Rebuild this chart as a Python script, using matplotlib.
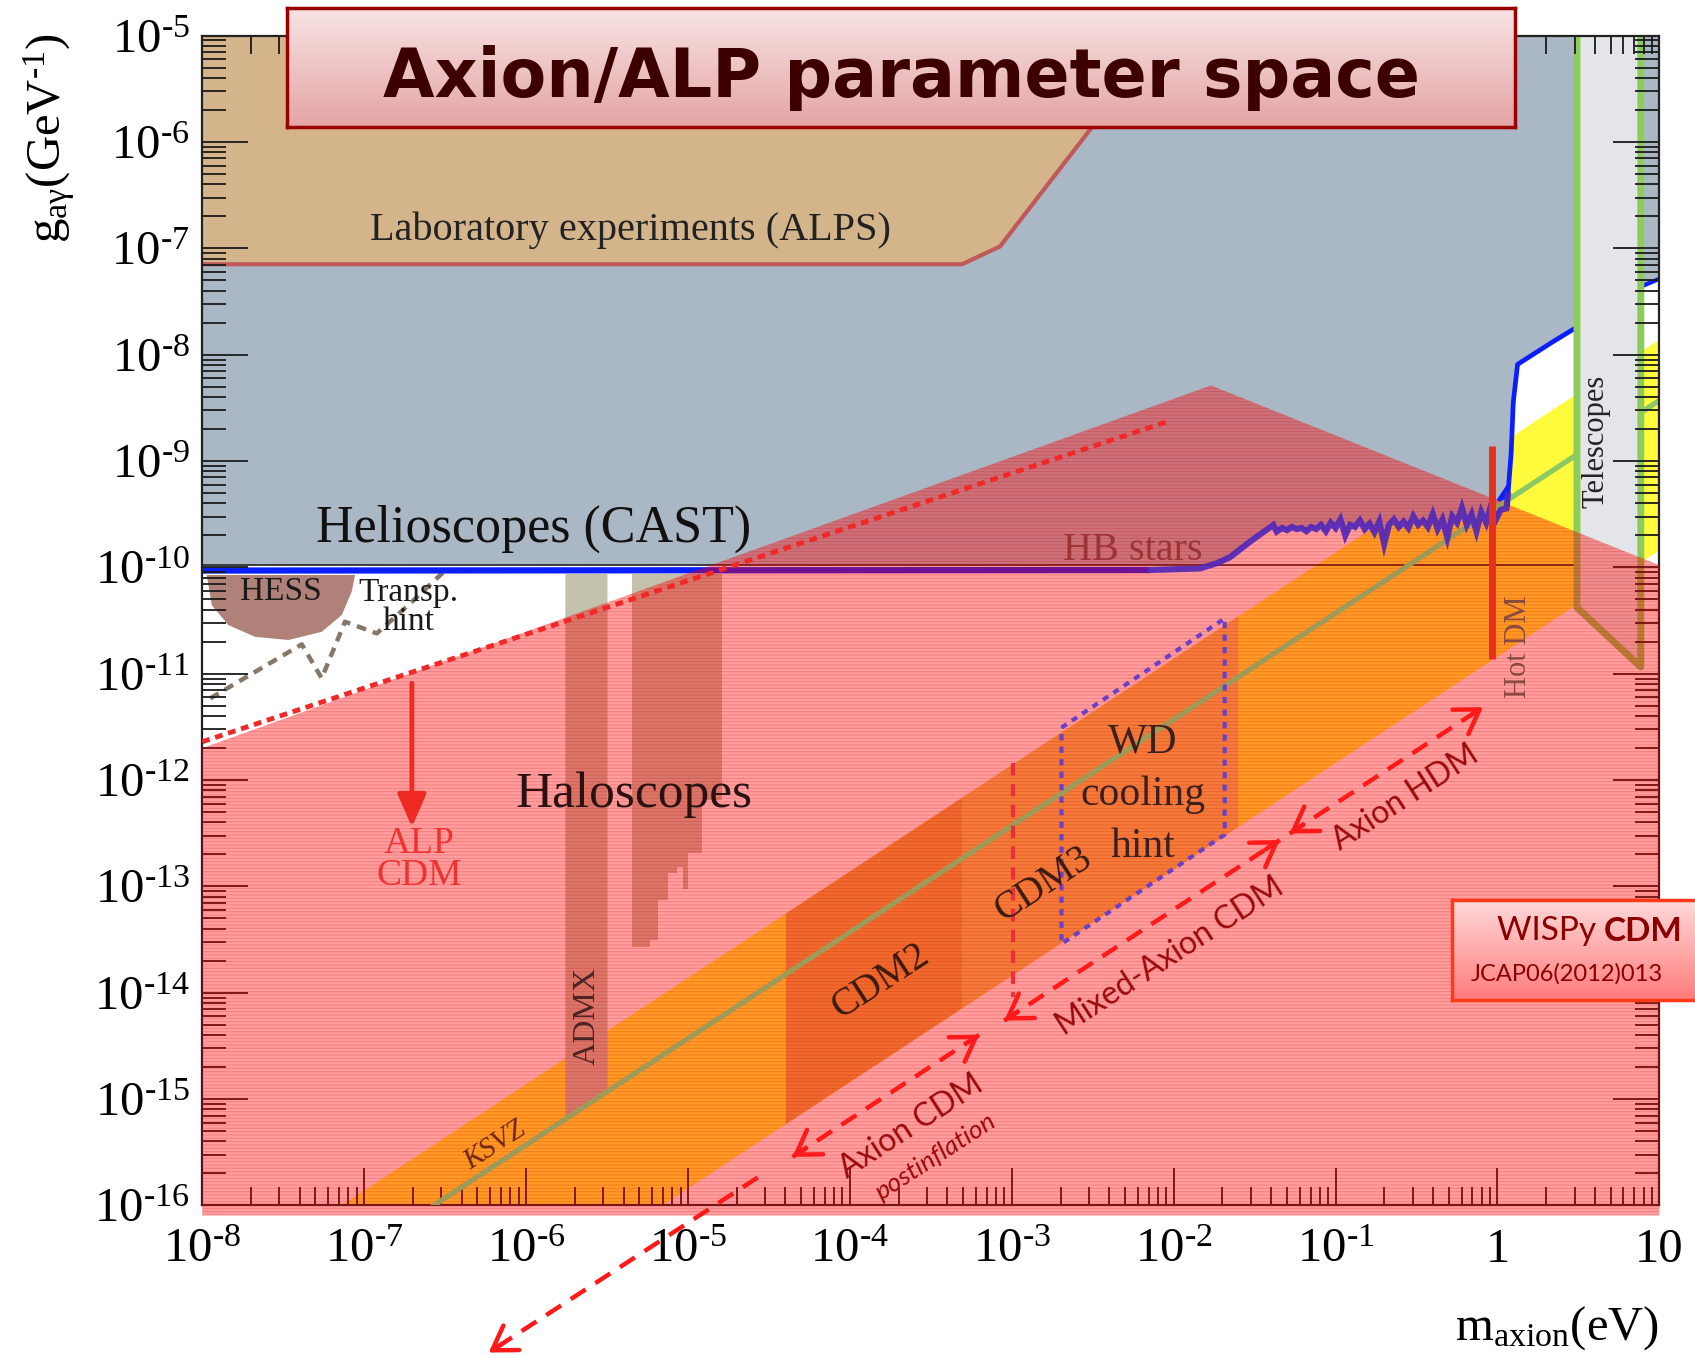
import numpy as np
import matplotlib
matplotlib.use("Agg")
import matplotlib.pyplot as plt
from matplotlib.patches import Polygon
from matplotlib.ticker import LogLocator, NullFormatter
from matplotlib.colors import LinearSegmentedColormap

plt.rcParams['font.family'] = ['Liberation Serif', 'DejaVu Serif']
plt.rcParams['mathtext.fontset'] = 'custom'
plt.rcParams['mathtext.rm'] = 'Liberation Serif'
plt.rcParams['mathtext.it'] = 'Liberation Serif:italic'
plt.rcParams['mathtext.bf'] = 'Liberation Serif:bold'
plt.rcParams['hatch.linewidth'] = 0.7

# ---------------------------------------------------------------
# Data: log10(m_axion / eV) and log10(g_agamma / GeV^-1)
# ---------------------------------------------------------------
x_decades = [-8, -7, -6, -5, -4, -3, -2, -1, 0, 1]
x_labels = [r'$\mathregular{10^{\text{-}8}}$', r'$\mathregular{10^{\text{-}7}}$',
            r'$\mathregular{10^{\text{-}6}}$', r'$\mathregular{10^{\text{-}5}}$',
            r'$\mathregular{10^{\text{-}4}}$', r'$\mathregular{10^{\text{-}3}}$',
            r'$\mathregular{10^{\text{-}2}}$', r'$\mathregular{10^{\text{-}1}}$',
            '1', '10']
y_decades = [-16, -15, -14, -13, -12, -11, -10, -9, -8, -7, -6, -5]
y_labels = [r'$\mathregular{10^{\text{-}%d}}$' % (-d) for d in y_decades]

# Laboratory experiments (ALPS) exclusion
alps_logm = [-8.0, -8.0, -3.307, -3.073, -2.506, -2.07]
alps_logg = [-5.0, -7.15, -7.15, -6.983, -5.864, -5.0]

# CAST helioscope limit (flat part, rise, noisy resonance scan, high-mass rise)
cast_flat_logm = [-8.0, -2.147, -1.838, -1.735, -1.653, -1.529, -1.385]
cast_flat_logg = [-10.03, -10.025, -10.01, -9.962, -9.906, -9.759, -9.602]
cast_scan_logm = [-1.364, -1.33, -1.30, -1.27, -1.24, -1.21, -1.18, -1.15, -1.12,
                  -1.09, -1.06, -1.03, -1.00, -0.97, -0.94, -0.91, -0.88, -0.85,
                  -0.82, -0.79, -0.76, -0.73, -0.70, -0.67, -0.64, -0.61, -0.58,
                  -0.55, -0.52, -0.49, -0.46, -0.43, -0.40, -0.37, -0.34, -0.31,
                  -0.28, -0.25, -0.22, -0.19, -0.16, -0.13, -0.10, -0.07, -0.04,
                  -0.01, 0.02, 0.056]
cast_scan_logg = [-9.664, -9.63, -9.65, -9.62, -9.64, -9.63, -9.66, -9.62, -9.64,
                  -9.60, -9.66, -9.58, -9.63, -9.55, -9.70, -9.60, -9.62, -9.56,
                  -9.64, -9.59, -9.67, -9.57, -9.78, -9.60, -9.55, -9.62, -9.57,
                  -9.63, -9.52, -9.60, -9.56, -9.62, -9.50, -9.64, -9.55, -9.72,
                  -9.52, -9.58, -9.44, -9.60, -9.50, -9.66, -9.48, -9.58, -9.42,
                  -9.55, -9.46, -9.445]
cast_high_logm = [0.064, 0.084, 0.0975, 0.124, 0.344, 0.4646]
cast_high_logg = [-9.321, -8.935, -8.447, -8.091, -7.877, -7.765]
cast_tri_logm = [-0.006, 0.077, 0.077]
cast_tri_logg = [-9.367, -9.179, -9.43]
cast_right_logm = [0.885, 0.898, 1.0]
cast_right_logg = [-7.36, -7.353, -7.287]

# Horizontal-branch stars bound
hb_logg = -9.977
hb_logm = [-8.0, 0.491]

# Telescopes band
tel_logm = [0.491, 0.491, 0.885, 0.885]
tel_logg = [-5.0, -10.378, -10.937, -5.0]

# QCD axion band offsets (log g = log m + offset) and KSVZ model line
band_hi = -8.86
band_lo = -10.84
ksvz_off = -9.43
cdm2_logm = [-4.395, -3.307]
cdm3_logm = [-3.307, -1.60]

# ALP cold dark matter triangle
pink_logm = [-8.0, -1.77, 1.0, 1.0, -8.0]
pink_logg = [-11.70, -8.29, -9.98, -16.094, -16.094]
alp_line_logm = [-8.0, -2.04]
alp_line_logg = [-11.64, -8.63]

# Haloscopes: ADMX and other cavity searches
admx_logm = [-5.757, -5.497, -5.497, -5.757]
admx_logg = [-10.063, -10.063, -14.95, -15.2]
halo_logm = [-5.348, -4.792, -4.792, -4.915, -4.915, -4.997, -4.997, -5.029,
             -5.029, -5.069, -5.069, -5.121, -5.121, -5.183, -5.183, -5.234,
             -5.234, -5.348]
halo_logg = [-10.063, -10.063, -12.19, -12.19, -12.69, -12.69, -13.02, -13.02,
             -12.815, -12.815, -12.878, -12.878, -13.13, -13.13, -13.505,
             -13.505, -13.567, -13.567]

# HESS exclusion and transparency hint
hess_logm = [-7.972, -7.056, -7.077, -7.138, -7.262, -7.468, -7.674, -7.838, -7.941]
hess_logg = [-10.072, -10.072, -10.23, -10.448, -10.606, -10.683, -10.653, -10.543, -10.355]
transp_logm = [-7.951, -7.385, -7.262, -7.118, -6.922, -6.727, -6.49]
transp_logg = [-11.232, -10.724, -11.043, -10.511, -10.621, -10.355, -10.016]

# White-dwarf cooling hint
wd_logm = [-2.693, -1.685, -1.685, -2.693, -2.693]
wd_logg = [-11.507, -10.48, -12.513, -13.54, -11.507]

# Hot dark matter bound, m = 1e-3 eV marker
hot_logm = -0.036
hot_logg = [-8.863, -10.866]
mixed_logm = -2.993
mixed_logg = [-11.84, -14.04]

# Dark matter production ranges (arrow ends)
arrow_post = [(-4.569, -15.736), (-6.231, -17.383)]
arrow_cdm = [(-4.355, -15.543), (-3.2, -14.394)]
arrow_mixed = [(-3.047, -14.262), (-1.344, -12.564)]
arrow_hdm = [(-1.284, -12.503), (-0.089, -11.314)]
alp_arrow = [(-6.705, -11.09), (-6.705, -12.442)]


def pts(lm, lg):
    return np.column_stack([np.power(10.0, lm), np.power(10.0, lg)])


def L(v):
    return np.power(10.0, v)


# ---------------------------------------------------------------
fig = plt.figure(figsize=(16.95, 13.58), dpi=100)
ax = fig.add_axes([0.1193, 0.1123, 0.8597, 0.8615])
ax.set_xscale('log')
ax.set_yscale('log')
ax.set_xlim(1e-8, 10)
ax.set_ylim(1e-16, 1e-5)
ax.set_axisbelow(True)

RED = '#ff1a1a'
SCAN = '#5228b8'

# axion model band (yellow, turns orange under the pink overlay)
bx = np.array([-8.5, 1.5])
band = pts([bx[0], bx[1], bx[1], bx[0]],
           [bx[0] + band_lo, bx[1] + band_lo, bx[1] + band_hi, bx[0] + band_hi])
ax.add_patch(Polygon(band, closed=True, fc='#fffb3c', ec='none', zorder=0.05))
for rng, col in ((cdm2_logm, '#e6ad4a'), (cdm3_logm, '#eec95e')):
    a, b = rng
    ax.add_patch(Polygon(pts([a, b, b, a], [a + band_lo, b + band_lo, b + band_hi, a + band_hi]),
                         closed=True, fc=col, ec='none', zorder=0.06))

# KSVZ line (green part outside the ALP triangle)
kx = np.array([0.05, 1.0])
ax.plot(L(kx), L(kx + ksvz_off), color='#8cc864', lw=3.8, zorder=0.08, solid_capstyle='butt')

# helioscope exclusion (grey-blue)
cast_all_m = cast_flat_logm + cast_scan_logm + cast_high_logm
cast_all_g = cast_flat_logg + cast_scan_logg + cast_high_logg
gm = [-8.0, -8.0, -1.72]
gg = [-5.0, hb_logg, hb_logg]
for m, g in zip(cast_all_m, cast_all_g):
    if m > -1.72:
        gm.append(m)
        gg.append(g)
gm += [0.5, 0.5]
gg += [-7.76, -5.0]
ax.add_patch(Polygon(pts(gm, gg), closed=True, fc='#aab7c4', ec='none', zorder=0.1))
ax.add_patch(Polygon(pts([0.885] + cast_right_logm + [1.0],
                         [-5.0] + cast_right_logg + [-5.0]),
                     closed=True, fc='#aab7c4', ec='none', zorder=0.1))

# laboratory exclusion
ax.add_patch(Polygon(pts(alps_logm, alps_logg), closed=True, fc='#d4b48a', ec='none', zorder=0.15))
ax.plot(L(np.array(alps_logm[1:])), L(np.array(alps_logg[1:])), color='#c05a5a', lw=3, zorder=0.16)

# telescopes
ax.add_patch(Polygon(pts(tel_logm, tel_logg), closed=True, fc='#e3e5e8', ec='none', zorder=0.2))
ax.plot(L(np.array(tel_logm)), L(np.array(tel_logg)), color='#8ccc5a', lw=5, zorder=0.42)

# haloscopes, HESS
ax.add_patch(Polygon(pts(admx_logm, admx_logg), closed=True, fc='#c3c0ab', ec='none', zorder=0.2))
ax.add_patch(Polygon(pts(halo_logm, halo_logg), closed=True, fc='#c3c0ab', ec='none', zorder=0.2))
ax.add_patch(Polygon(pts(hess_logm, hess_logg), closed=True, fc='#af8178', ec='none', zorder=0.2))
ax.plot(L(np.array(transp_logm)), L(np.array(transp_logg)), color='#85786a', lw=3.2,
        ls=(0, (2.2, 1.6)), zorder=0.4)

# CAST limit line and HB line
ax.plot(L(np.array(hb_logm)), [L(hb_logg)] * 2, color='#222222', lw=1.2, zorder=0.4)
ax.plot(L(np.array(cast_flat_logm[:2])), L(np.array(cast_flat_logg[:2])),
        color='#0a1eff', lw=4.5, zorder=0.41, solid_capstyle='butt')
ax.plot(L(np.array(cast_flat_logm[1:] + cast_scan_logm + cast_high_logm[:1])),
        L(np.array(cast_flat_logg[1:] + cast_scan_logg + cast_high_logg[:1])),
        color=SCAN, lw=4.4, zorder=1.2, solid_joinstyle='miter', alpha=0.92)
ax.plot(L(np.array(cast_high_logm)), L(np.array(cast_high_logg)),
        color='#0a1eff', lw=3.4, zorder=0.41)
ax.add_patch(Polygon(pts(cast_tri_logm, cast_tri_logg), closed=True, fc='#0a1eff', ec='none', zorder=0.41))
ax.plot(L(np.array(cast_right_logm)), L(np.array(cast_right_logg)), color='#0a1eff', lw=3, zorder=0.41)

ax.text(L(-2.252), L(-9.839), 'HB stars', fontsize=29, color='#5a5a5a', ha='center', va='center', zorder=0.9)

# ALP cold dark matter region (translucent red with fine line texture)
ax.add_patch(Polygon(pts(pink_logm, pink_logg), closed=True, fc=(1, 0, 0, 0.38), ec='none',
                     lw=0, zorder=1.0, clip_on=False))
ax.add_patch(Polygon(pts(pink_logm, pink_logg), closed=True, fc='none', ec=(0.85, 0, 0, 0.22),
                     lw=0, hatch='-----', zorder=1.01, clip_on=False))

# KSVZ line inside the ALP region
kx = np.array([-8.0, 0.05])
ax.plot(L(kx), L(kx + ksvz_off), color='#a09a58', lw=3.8, zorder=1.1, solid_capstyle='butt')

# ALP CDM dotted border and arrow
ax.plot(L(np.array(alp_line_logm)), L(np.array(alp_line_logg)), color='#f02828', lw=3.5,
        ls=(0, (1.6, 1.2)), zorder=2)
ax.annotate('', xy=(L(alp_arrow[1][0]), L(alp_arrow[1][1])),
            xytext=(L(alp_arrow[0][0]), L(alp_arrow[0][1])),
            arrowprops=dict(arrowstyle='-|>,head_length=0.8,head_width=0.35', lw=3.5,
                            color='#ee2a22', shrinkA=0, shrinkB=0, mutation_scale=25), zorder=2)

# WD box, hot DM bound, 1e-3 eV marker
ax.plot(L(np.array(wd_logm)), L(np.array(wd_logg)), color='#6a40c8', lw=3, ls=(0, (1.5, 1.5)), zorder=2)
ax.plot([L(hot_logm)] * 2, L(np.array(hot_logg)), color='#e8301e', lw=5, zorder=2, solid_capstyle='butt')
ax.plot([L(mixed_logm)] * 2, L(np.array(mixed_logg)), color='#e8303a', lw=3, ls=(0, (3, 2)), zorder=2)


def head(tip, tail):
    d = np.array(tail) - np.array(tip)
    d = d / np.hypot(*d)
    back = np.array(tip) + 0.12 * d
    ax.annotate('', xy=(L(tip[0]), L(tip[1])), xytext=(L(back[0]), L(back[1])),
                arrowprops=dict(arrowstyle='->,head_length=0.55,head_width=0.35', lw=3.2,
                                color=RED, shrinkA=0, shrinkB=0, mutation_scale=30),
                annotation_clip=False, zorder=3)


def dashed_arrow(p0, p1, h0=True, h1=True):
    ax.plot([L(p0[0]), L(p1[0])], [L(p0[1]), L(p1[1])], color=RED, lw=3.2,
            ls=(0, (4, 2.6)), zorder=3, clip_on=False)
    if h0:
        head(p0, p1)
    if h1:
        head(p1, p0)


dashed_arrow(*arrow_post, h0=False, h1=True)
dashed_arrow(*arrow_cdm)
dashed_arrow(*arrow_mixed)
dashed_arrow(*arrow_hdm)


# labels inside the plot
def T(lm, lg, s, **kw):
    kw.setdefault('ha', 'center')
    kw.setdefault('va', 'center')
    kw.setdefault('zorder', 4)
    ax.text(L(lm), L(lg), s, **kw)


T(-5.357, -6.83, 'Laboratory experiments (ALPS)', fontsize=29, color='#222222')
T(-5.951, -9.636, 'Helioscopes (CAST)', fontsize=37.5, color='#111111')
T(-7.513, -10.226, 'HESS', fontsize=24, color='#1a1a1a')
T(-6.725, -10.378, 'Transp.\nhint', fontsize=24, color='#1a1a1a', linespacing=0.95)
T(-5.336, -12.137, 'Haloscopes', fontsize=37, color='#2a1212')
T(-6.658, -12.75, 'ALP\nCDM', fontsize=27, color='#ee3333', linespacing=0.92)
T(-5.624, -14.221, 'ADMX', fontsize=23, color='#4a2525', rotation=90)
T(-6.191, -15.441, 'KSVZ', fontsize=21, color='#6e2814', rotation=33, style='italic')
T(-3.808, -13.896, 'CDM2', fontsize=28, color='#3a1a10', rotation=33)
T(-2.806, -12.981, 'CDM3', fontsize=28, color='#3a1a10', rotation=33)
T(-2.192, -11.649, 'WD', fontsize=30, color='#3a2020')
T(-2.192, -12.137, 'cooling', fontsize=30, color='#3a2020')
T(-2.192, -12.625, 'hint', fontsize=30, color='#3a2020')
T(0.131, -10.744, 'Hot DM', fontsize=22, color='#8a4a40', rotation=90)
T(0.611, -8.813, 'Telescopes', fontsize=22, color='#222222', rotation=90)
T(-3.621, -15.258, 'Axion CDM', fontsize=23, color='#9a0a0a', rotation=33, family='Lato')
T(-3.467, -15.543, 'postinflation', fontsize=19, color='#9a0a0a', rotation=33, family='Lato',
  style='italic')
T(-2.025, -13.662, 'Mixed-Axion CDM', fontsize=23, color='#9a0a0a', rotation=33, family='Lato')
T(-0.57, -12.168, 'Axion HDM', fontsize=23, color='#9a0a0a', rotation=33, family='Lato')

# ticks and frame
ax.set_xticks(L(np.array(x_decades)), x_labels)
ax.set_yticks(L(np.array(y_decades)), y_labels)
ax.xaxis.set_minor_locator(LogLocator(base=10, subs=np.arange(2, 10), numticks=100))
ax.yaxis.set_minor_locator(LogLocator(base=10, subs=np.arange(2, 10), numticks=100))
ax.xaxis.set_minor_formatter(NullFormatter())
ax.yaxis.set_minor_formatter(NullFormatter())
ax.tick_params(which='both', direction='in', top=True, right=True, color='#1a1a1a',
               width=1.3, labelcolor='black')
ax.tick_params(axis='x', which='major', length=27, pad=16, labelsize=35)
ax.tick_params(axis='x', which='minor', length=13)
ax.tick_params(axis='y', which='major', length=33, pad=9, labelsize=35)
ax.tick_params(axis='y', which='minor', length=17)
for sp in ax.spines.values():
    sp.set_zorder(0.6)
    sp.set_linewidth(1.6)
    sp.set_color('#222222')

fig.text(0.029, 0.898, r'$\mathregular{g_{a\gamma}(GeV^{\text{-}1})}$', rotation=90,
         ha='center', va='center', fontsize=35)
fig.text(0.979, 0.0223, r'$\mathregular{m_{axion}(eV)}$', ha='right', va='center', fontsize=35)


def gradient_box(rect, top, bottom, edge, lw):
    bax = fig.add_axes(rect, zorder=10)
    cmap = LinearSegmentedColormap.from_list('g', [top, bottom])
    bax.imshow(np.linspace(0, 1, 200)[:, None], aspect='auto', cmap=cmap,
               extent=[0, 1, 0, 1], origin='upper')
    bax.set_xlim(0, 1)
    bax.set_ylim(0, 1)
    bax.set_xticks([])
    bax.set_yticks([])
    for sp in bax.spines.values():
        sp.set_color(edge)
        sp.set_linewidth(lw)
    return bax


tax = gradient_box([0.1696, 0.9068, 0.7245, 0.0876], '#f8e4e4', '#e4a4a4', '#9b0000', 2.5)
tax.text(0.5, 0.245, 'Axion/ALP parameter space', ha='center', va='baseline', fontsize=48,
         fontweight='bold', family='DejaVu Sans', color='#3c0000')

wax = gradient_box([0.8565, 0.2635, 0.16, 0.0741], '#ffdada', '#ff7c7c', '#ff3a1a', 2.5)
t1 = wax.text(0.165, 0.54, 'WISPy ', ha='left', va='bottom', fontsize=24, family='Lato',
              color='#8b0000')
wax.annotate('CDM', xy=(1, 0), xycoords=t1, ha='left', va='bottom', fontsize=24,
             family='Lato', fontweight='bold', color='#8b0000')
wax.text(0.07, 0.26, 'JCAP06(2012)013', ha='left', va='center', fontsize=17,
         family='Lato', color='#8b0000')

fig.savefig('out.png', dpi=100)
